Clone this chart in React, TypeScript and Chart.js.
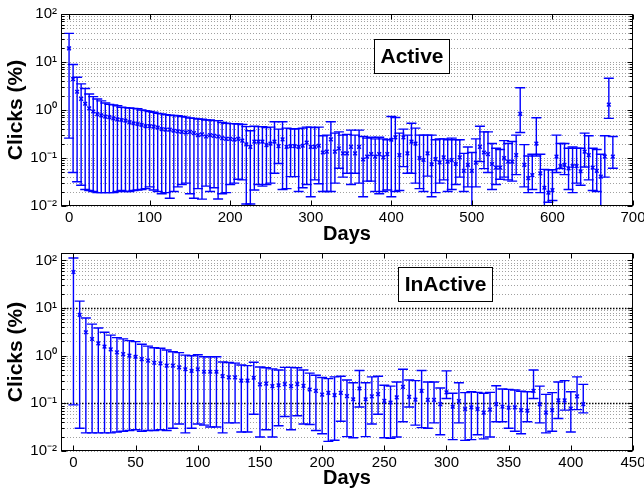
import React, { useEffect, useRef } from 'react';
import { Chart, registerables } from 'chart.js';

Chart.register(...registerables);

// ---------- Data (Active users) ----------
const activeDays = [
  0, 5, 10, 15, 20, 25, 30, 35, 40, 45, 50, 55, 60, 65, 70, 75, 80, 85, 90, 95,
  100, 105, 110, 115, 120, 125, 130, 135, 140, 145, 150, 155, 160, 165, 170, 175, 180, 185, 190, 195,
  200, 205, 210, 215, 220, 225, 230, 235, 240, 245, 250, 255, 260, 265, 270, 275, 280, 285, 290, 295,
  300, 305, 310, 315, 320, 325, 330, 335, 340, 345, 350, 355, 360, 365, 370, 375, 380, 385, 390, 395,
  400, 405, 410, 415, 420, 425, 430, 435, 440, 445, 450, 455, 460, 465, 470, 475, 480, 485, 490, 495,
  500, 505, 510, 515, 520, 525, 530, 535, 540, 545, 550, 555, 560, 565, 570, 575, 580, 585, 590, 595,
  600, 605, 610, 615, 620, 625, 630, 635, 640, 645, 650, 655, 660, 665, 670, 675,
];
const activeMean = [
  19.3, 4.4, 2.4, 1.7, 1.35, 1.08, 0.93, 0.82, 0.77, 0.73, 0.71, 0.67, 0.64, 0.62, 0.6, 0.56, 0.53, 0.51, 0.49, 0.46,
  0.46, 0.45, 0.43, 0.4, 0.39, 0.39, 0.37, 0.36, 0.35, 0.34, 0.35, 0.33, 0.3, 0.31, 0.28, 0.3, 0.29, 0.28,
  0.26, 0.25, 0.25, 0.24, 0.25, 0.23, 0.193, 0.17, 0.22, 0.22, 0.22, 0.186, 0.2, 0.22, 0.177, 0.245, 0.17, 0.177,
  0.177, 0.17, 0.18, 0.21, 0.17, 0.17, 0.18, 0.13, 0.136, 0.245, 0.136, 0.158, 0.125, 0.125, 0.17, 0.125, 0.17,
  0.093, 0.107, 0.12, 0.107, 0.12, 0.103, 0.12, 0.24, 0.27, 0.115, 0.27, 0.125, 0.22, 0.2,
  0.1, 0.091, 0.125, 0.074, 0.095, 0.081, 0.103, 0.084, 0.091, 0.075, 0.103, 0.054, 0.072, 0.054, 0.08, 0.17,
  0.13, 0.12, 0.075, 0.063, 0.063, 0.1, 0.084, 0.084, 0.115, 0.83, 0.072, 0.038, 0.044, 0.2, 0.048, 0.024,
  0.019, 0.0215, 0.107, 0.068, 0.072, 0.061, 0.068, 0.068, 0.053, 0.136, 0.115, 0.063, 0.054, 0.041, 0.107, 1.29, 0.107,
];
const activeHigh = [
  39.5, 8.9, 4.8, 3.5, 2.8, 2.15, 1.9, 1.7, 1.55, 1.4, 1.31, 1.28, 1.23, 1.14, 1.12, 1.1, 1.08, 1.06, 1.0, 0.97,
  0.93, 0.9, 0.85, 0.83, 0.8, 0.78, 0.77, 0.76, 0.73, 0.71, 0.68, 0.67, 0.65, 0.64, 0.62, 0.62, 0.6, 0.6,
  0.55, 0.53, 0.52, 0.52, 0.51, 0.5, 0.45, 0.37, 0.46, 0.45, 0.45, 0.43, 0.44, 0.57, 0.4, 0.57, 0.42, 0.41,
  0.4, 0.41, 0.42, 0.44, 0.44, 0.43, 0.44, 0.29, 0.3, 0.57, 0.33, 0.35, 0.3, 0.31, 0.38, 0.3, 0.38,
  0.28, 0.26, 0.27, 0.25, 0.27, 0.25, 0.24, 0.73, 0.7, 0.33, 0.4, 0.3, 0.53, 0.42,
  0.3, 0.3, 0.3, 0.3, 0.24, 0.25, 0.25, 0.24, 0.26, 0.24, 0.24, 0.125, 0.17, 0.13, 0.25, 0.46,
  0.35, 0.35, 0.2, 0.16, 0.15, 0.23, 0.2, 0.22, 0.3, 2.9, 0.19, 0.11, 0.12, 0.69, 0.12, 0.058,
  0.057, 0.057, 0.3, 0.2, 0.2, 0.16, 0.17, 0.16, 0.16, 0.33, 0.29, 0.16, 0.15, 0.12, 0.29, 4.6, 0.28,
];
const activeLow = [
  0.26, 0.05, 0.032, 0.027, 0.022, 0.021, 0.02, 0.019, 0.019, 0.019, 0.019, 0.019, 0.02, 0.021, 0.02, 0.02, 0.021, 0.0215, 0.022, 0.023,
  0.025, 0.0215, 0.02, 0.018, 0.019, 0.0145, 0.02, 0.025, 0.028, 0.03, 0.018, 0.0145, 0.023, 0.0139, 0.026, 0.02, 0.024, 0.014,
  0.018, 0.019, 0.028, 0.03, 0.036, 0.035, 0.011, 0.011, 0.0215, 0.028, 0.026, 0.028, 0.03, 0.048, 0.077, 0.022, 0.023, 0.041,
  0.041, 0.02, 0.024, 0.028, 0.0156, 0.035, 0.029, 0.02, 0.02, 0.02, 0.03, 0.061, 0.04, 0.048, 0.028, 0.048, 0.03,
  0.0156, 0.033, 0.033, 0.02, 0.018, 0.02, 0.0215, 0.0156, 0.02, 0.021, 0.066, 0.048, 0.048, 0.03,
  0.023, 0.02, 0.042, 0.0156, 0.019, 0.03, 0.035, 0.02, 0.022, 0.028, 0.04, 0.02, 0.025, 0.009, 0.025, 0.084,
  0.06, 0.05, 0.022, 0.028, 0.036, 0.04, 0.035, 0.033, 0.045, 0.34, 0.025, 0.019, 0.022, 0.11, 0.019, 0.009,
  0.012, 0.013, 0.05, 0.06, 0.045, 0.022, 0.019, 0.03, 0.027, 0.065, 0.035, 0.021, 0.02, 0.009, 0.04, 0.67, 0.061,
];

// ---------- Data (InActive users) ----------
const inactiveDays = [
  0, 5, 10, 15, 20, 25, 30, 35, 40, 45, 50, 55, 60, 65, 70, 75, 80, 85, 90, 95,
  100, 105, 110, 115, 120, 125, 130, 135, 140, 145, 150, 155, 160, 165, 170, 175, 180, 185, 190, 195,
  200, 205, 210, 215, 220, 225, 230, 235, 240, 245, 250, 255, 260, 265, 270, 275, 280, 285, 290, 295,
  300, 305, 310, 315, 320, 325, 330, 335, 340, 345, 350, 355, 360, 365, 370, 375, 380, 385, 390, 395,
  400, 405, 410,
];
const inactiveMean = [
  57, 7.2, 3.1, 2.24, 1.82, 1.55, 1.36, 1.17, 1.08, 1.0, 0.95, 0.85, 0.79, 0.71, 0.69, 0.62, 0.62, 0.57, 0.52, 0.48,
  0.52, 0.46, 0.46,
  0.46, 0.373, 0.35, 0.35, 0.3, 0.3, 0.345, 0.25, 0.26, 0.23, 0.24, 0.254, 0.23, 0.254, 0.233, 0.195, 0.183,
  0.153, 0.166, 0.149, 0.166, 0.142, 0.122, 0.205, 0.122, 0.14, 0.156, 0.113, 0.104, 0.133, 0.222, 0.137, 0.12,
  0.183, 0.118, 0.118, 0.096, 0.17, 0.085, 0.112, 0.076, 0.082, 0.076, 0.064, 0.074, 0.096, 0.085,
  0.081, 0.082, 0.072, 0.07, 0.183, 0.096, 0.064, 0.072, 0.115, 0.115, 0.078, 0.14, 0.096,
];
const inactiveHigh = [
  112, 14, 6.2, 4.6, 3.8, 3.1, 2.7, 2.4, 2.25, 2.07, 1.97, 1.74, 1.59, 1.47, 1.43, 1.32, 1.21, 1.16, 1.03, 1.0,
  1.05, 0.95, 0.95,
  0.95, 0.74, 0.72, 0.7, 0.64, 0.62, 0.73, 0.58, 0.56, 0.53, 0.5, 0.57, 0.57, 0.56, 0.5, 0.43, 0.39,
  0.35, 0.33, 0.36, 0.37, 0.31, 0.27, 0.49, 0.27, 0.36, 0.37, 0.24, 0.23, 0.28, 0.52, 0.31, 0.3,
  0.49, 0.28, 0.28, 0.21, 0.48, 0.163, 0.27, 0.168, 0.175, 0.17, 0.163, 0.17, 0.234, 0.2,
  0.196, 0.19, 0.18, 0.175, 0.5, 0.23, 0.154, 0.168, 0.28, 0.3, 0.175, 0.36, 0.25,
];
const inactiveLow = [
  0.093, 0.03, 0.024, 0.024, 0.024, 0.024, 0.024, 0.025, 0.026, 0.027, 0.028, 0.026, 0.027, 0.027, 0.028, 0.027, 0.03, 0.037, 0.024, 0.03,
  0.037, 0.035, 0.032,
  0.032, 0.024, 0.039, 0.039, 0.025, 0.025, 0.059, 0.0196, 0.028, 0.0196, 0.034, 0.053, 0.028, 0.055, 0.037, 0.036, 0.027,
  0.023, 0.0159, 0.0168, 0.042, 0.02, 0.019, 0.084, 0.02, 0.037, 0.059, 0.019, 0.0185, 0.0196, 0.041, 0.084, 0.035,
  0.031, 0.03, 0.039, 0.022, 0.126, 0.0173, 0.039, 0.0167, 0.0173, 0.022, 0.018, 0.0197, 0.041, 0.041,
  0.03, 0.026, 0.023, 0.041, 0.126, 0.039, 0.024, 0.026, 0.048, 0.072, 0.025, 0.074, 0.063,
];

// ---------- Ticks ----------
const topXTicks = [0, 100, 200, 300, 400, 500, 600, 700];
const bottomXTicks = [0, 50, 100, 150, 200, 250, 300, 350, 400, 450];
const yTickValues = [0.01, 0.1, 1, 10, 100];
const yTickLabels = ['10\u207B\u00B2', '10\u207B\u00B9', '10\u2070', '10\u00B9', '10\u00B2'];

const FONT = '"Liberation Sans", Arial, Helvetica, sans-serif';
const BLUE = '#0000ff';

function decadeLabel(v: number): string {
  const i = yTickValues.findIndex((t) => Math.abs(Math.log10(t) - Math.log10(v)) < 1e-6);
  return i >= 0 ? yTickLabels[i] : '';
}

function logGrid(min: number, max: number): number[] {
  const out: number[] = [];
  for (let e = Math.floor(Math.log10(min)); e <= Math.ceil(Math.log10(max)); e++) {
    for (let k = 1; k <= 9; k++) {
      const v = k * Math.pow(10, e);
      if (v >= min * 0.9999 && v <= max * 1.0001) out.push(v);
    }
  }
  return out;
}

function isDecade(v: number) {
  const l = Math.log10(v);
  return Math.abs(l - Math.round(l)) < 1e-9;
}

type PanelProps = {
  days: number[];
  mean: number[];
  low: number[];
  high: number[];
  xMin: number;
  xMax: number;
  xTicks: number[];
  yMax: number;
  padTop: number;
  axisHeight: number;
  titlePadBottom: number;
  darkDecades: number[];
  boxText: string;
  boxX: number;
  boxY: number;
};

function Panel(p: PanelProps) {
  const ref = useRef<HTMLCanvasElement>(null);
  useEffect(() => {
    const canvas = ref.current;
    if (!canvas) return;
    const plugin = {
      id: 'errPanel',
      beforeDatasetsDraw(chart: any) {
        const { ctx, chartArea: a, scales } = chart;
        const xs = scales.x;
        const ys = scales.y;
        ctx.save();
        // horizontal dotted grid (major + minor)
        for (const v of logGrid(ys.min, ys.max)) {
          const y = Math.round(ys.getPixelForValue(v)) + 0.5;
          const dark = isDecade(v) && p.darkDecades.some((d) => Math.abs(d - v) / d < 1e-6);
          ctx.beginPath();
          ctx.setLineDash(dark ? [1.5, 1.5] : [1, 2]);
          ctx.lineWidth = dark ? 1.5 : 1;
          ctx.strokeStyle = dark ? '#000' : '#a0a0a0';
          ctx.moveTo(a.left, y);
          ctx.lineTo(a.right, y);
          ctx.stroke();
        }
        ctx.setLineDash([]);
        // error bars
        ctx.beginPath();
        ctx.rect(a.left, a.top, a.right - a.left, a.bottom - a.top);
        ctx.clip();
        ctx.strokeStyle = BLUE;
        ctx.lineWidth = 1.4;
        const cap = 5;
        for (let i = 0; i < p.days.length; i++) {
          const x = xs.getPixelForValue(p.days[i]);
          const yl = ys.getPixelForValue(p.low[i]);
          const yh = ys.getPixelForValue(p.high[i]);
          ctx.beginPath();
          ctx.moveTo(x, yl);
          ctx.lineTo(x, yh);
          ctx.moveTo(x - cap, yl);
          ctx.lineTo(x + cap, yl);
          ctx.moveTo(x - cap, yh);
          ctx.lineTo(x + cap, yh);
          ctx.stroke();
        }
        ctx.restore();
      },
      afterDatasetsDraw(chart: any) {
        const { ctx, chartArea: a, scales } = chart;
        const xs = scales.x;
        const ys = scales.y;
        ctx.save();
        const L = Math.round(a.left) + 0.5;
        const R = Math.round(a.right) - 0.5;
        const T = Math.round(a.top) + 0.5;
        const B = Math.round(a.bottom) - 0.5;
        ctx.strokeStyle = '#000';
        ctx.lineWidth = 1;
        ctx.beginPath();
        // y ticks inside, both sides
        for (const v of logGrid(ys.min, ys.max)) {
          const y = Math.round(ys.getPixelForValue(v)) + 0.5;
          const len = isDecade(v) ? 5 : 3;
          ctx.moveTo(L, y);
          ctx.lineTo(L + len, y);
          ctx.moveTo(R, y);
          ctx.lineTo(R - len, y);
        }
        // x ticks inside, top and bottom
        for (const t of p.xTicks) {
          const x = Math.round(xs.getPixelForValue(t)) + 0.5;
          ctx.moveTo(x, B);
          ctx.lineTo(x, B - 5);
          ctx.moveTo(x, T);
          ctx.lineTo(x, T + 5);
        }
        ctx.stroke();
        ctx.strokeRect(L, T, R - L, B - T);

        // annotation box
        const cx = xs.getPixelForValue(p.boxX);
        const cy = ys.getPixelForValue(p.boxY);
        ctx.font = `bold 21px ${FONT}`;
        const tw = ctx.measureText(p.boxText).width;
        const bw = Math.round(tw + 12);
        const bh = 34;
        const bx = Math.round(cx - bw / 2) + 0.5;
        const by = Math.round(cy - bh / 2) + 0.5;
        ctx.fillStyle = '#fff';
        ctx.fillRect(bx, by, bw, bh);
        ctx.strokeRect(bx, by, bw, bh);
        ctx.fillStyle = '#000';
        ctx.textAlign = 'center';
        ctx.textBaseline = 'middle';
        ctx.fillText(p.boxText, bx + bw / 2, by + bh / 2 + 1);
        ctx.restore();
      },
    };

    const chart = new Chart(canvas, {
      type: 'scatter',
      data: {
        datasets: [
          {
            data: p.days.map((d, i) => ({ x: d, y: p.mean[i] })),
            pointStyle: 'crossRot',
            pointRadius: 2.6,
            pointHoverRadius: 2.6,
            borderColor: BLUE,
            backgroundColor: BLUE,
            borderWidth: 1.4,
            showLine: false,
          } as any,
        ],
      },
      options: {
        responsive: false,
        maintainAspectRatio: false,
        animation: false,
        devicePixelRatio: 1,
        events: [],
        layout: { padding: { left: 0, right: 11, top: p.padTop, bottom: 0 } },
        plugins: { legend: { display: false }, tooltip: { enabled: false } },
        scales: {
          x: {
            type: 'linear',
            min: p.xMin,
            max: p.xMax,
            afterBuildTicks: (s: any) => {
              s.ticks = p.xTicks.map((v) => ({ value: v }));
            },
            afterFit: (s: any) => {
              s.height = p.axisHeight;
              s.paddingLeft = 0;
              s.paddingRight = 0;
            },
            grid: { display: false, drawTicks: false },
            border: { display: false },
            ticks: {
              color: '#000',
              font: { family: FONT, size: 15 },
              padding: 3,
              maxRotation: 0,
              autoSkip: false,
            },
            title: {
              display: true,
              text: 'Days',
              color: '#000',
              font: { family: FONT, size: 20, weight: 'bold' },
              padding: { top: 0, bottom: p.titlePadBottom },
            },
          },
          y: {
            type: 'logarithmic',
            min: 0.01,
            max: p.yMax,
            afterBuildTicks: (s: any) => {
              s.ticks = yTickValues.map((v) => ({ value: v }));
            },
            afterFit: (s: any) => {
              s.width = 61;
              s.paddingTop = 0;
              s.paddingBottom = 0;
            },
            grid: { display: false, drawTicks: false },
            border: { display: false },
            ticks: {
              color: '#000',
              font: { family: FONT, size: 15 },
              padding: 4,
              autoSkip: false,
              callback: (v: any) => decadeLabel(Number(v)),
            },
            title: {
              display: true,
              text: 'Clicks (%)',
              color: '#000',
              font: { family: FONT, size: 21, weight: 'bold' },
              padding: { top: 4, bottom: 0 },
            },
          },
        },
      } as any,
      plugins: [plugin],
    });
    return () => chart.destroy();
  }, []);
  return <canvas ref={ref} width={644} height={248} style={{ display: 'block', width: 644, height: 248 }} />;
}

export default function App() {
  return (
    <div style={{ position: 'absolute', left: 0, top: 0, width: 644, height: 496, background: '#fff' }}>
      <Panel
        days={activeDays}
        mean={activeMean}
        low={activeLow}
        high={activeHigh}
        xMin={-10}
        xMax={700}
        xTicks={topXTicks}
        yMax={100}
        padTop={14}
        axisHeight={42}
        titlePadBottom={2}
        darkDecades={[]}
        boxText="Active"
        boxX={425}
        boxY={13.2}
      />
      <Panel
        days={inactiveDays}
        mean={inactiveMean}
        low={inactiveLow}
        high={inactiveHigh}
        xMin={-10}
        xMax={450}
        xTicks={bottomXTicks}
        yMax={143}
        padTop={5}
        axisHeight={45}
        titlePadBottom={6}
        darkDecades={[10, 0.1]}
        boxText="InActive"
        boxX={299}
        boxY={32}
      />
    </div>
  );
}
